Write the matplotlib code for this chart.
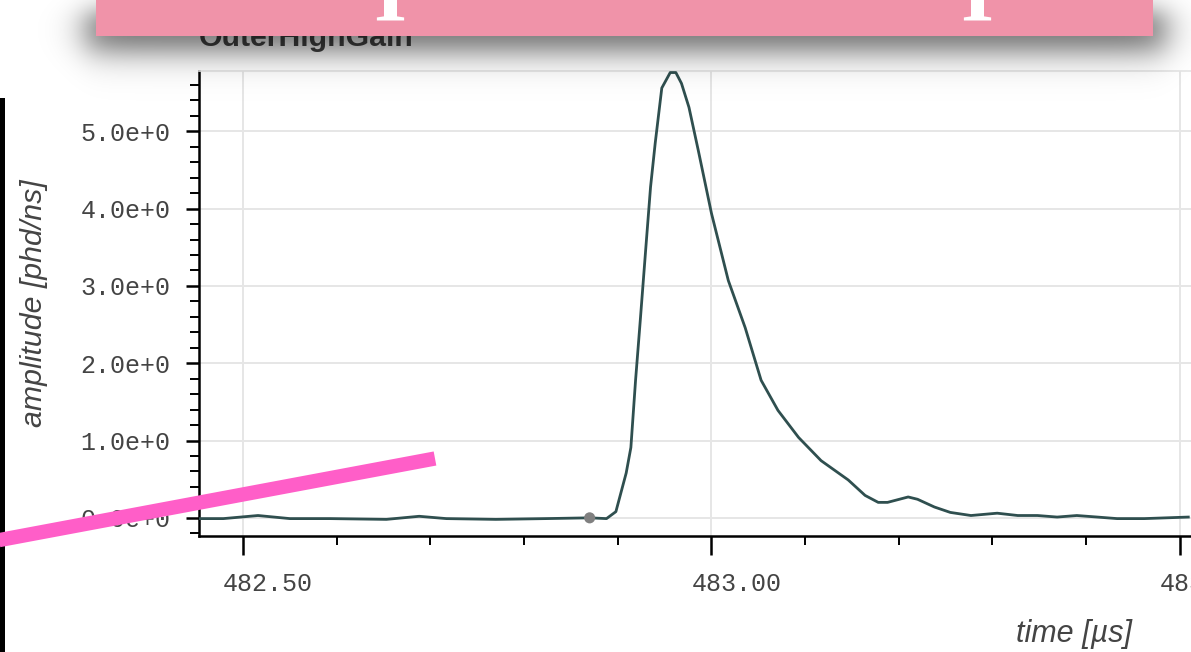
import numpy as np
import matplotlib.pyplot as plt
from matplotlib.ticker import MultipleLocator
from matplotlib.patches import Rectangle
from matplotlib.transforms import ScaledTranslation

# --- данные ---
time_us = [482.453, 482.479, 482.516, 482.550, 482.593, 482.653, 482.688, 482.717,
           482.770, 482.823, 482.870, 482.888, 482.898, 482.909, 482.914, 482.919,
           482.924, 482.930, 482.935, 482.940, 482.947, 482.956, 482.962, 482.968,
           482.976, 482.986, 483.000, 483.018, 483.036, 483.053, 483.071, 483.093,
           483.117, 483.146, 483.164, 483.178, 483.188, 483.210, 483.220, 483.238,
           483.255, 483.277, 483.305, 483.327, 483.348, 483.369, 483.390, 483.412,
           483.433, 483.462, 483.509]
amplitude = [-0.01, -0.01, 0.03, -0.01, -0.01, -0.02, 0.02, -0.01,
             -0.02, -0.01, 0.0, -0.01, 0.08, 0.58, 0.91, 1.78,
             2.55, 3.50, 4.28, 4.85, 5.56, 5.76, 5.76, 5.62,
             5.31, 4.75, 3.94, 3.07, 2.46, 1.78, 1.39, 1.04,
             0.74, 0.49, 0.29, 0.20, 0.20, 0.27, 0.24, 0.14,
             0.07, 0.03, 0.06, 0.03, 0.03, 0.01, 0.03, 0.01,
             -0.01, -0.01, 0.01]
marker_time = [482.870]
marker_amp = [0.0]

x_ticks = [482.5, 483.0, 483.5]
x_tick_labels = ['482.50', '483.00', '483.50']
y_ticks = [0, 1, 2, 3, 4, 5]
y_tick_labels = ['0.0e+0', '1.0e+0', '2.0e+0', '3.0e+0', '4.0e+0', '5.0e+0']

W, H = 1191, 652


def px_box(left, top, right, bottom):
    return [left / W, 1 - bottom / H, (right - left) / W, (bottom - top) / H]


fig = plt.figure(figsize=(W / 100, H / 100), dpi=100)
fig.patch.set_facecolor('white')

# --- сам график (обрезан справа, как на скриншоте) ---
ax = fig.add_axes(px_box(199, 71, 1949, 536))
ax.plot(time_us, amplitude, color='#2f4f4f', lw=2.0, solid_joinstyle='round', zorder=3)
ax.scatter(marker_time, marker_amp, s=64, color='#808080', edgecolors='none', zorder=4)

ax.set_xlim(482.453, 484.321)
ax.set_ylim(-0.235, 5.78)

mono = 'Liberation Mono'
ax.set_xticks(x_ticks, x_tick_labels, fontfamily=mono, fontsize=18, color='#444444')
ax.set_yticks(y_ticks, y_tick_labels, fontfamily=mono, fontsize=18, color='#444444')
ax.xaxis.set_minor_locator(MultipleLocator(0.1))
ax.yaxis.set_minor_locator(MultipleLocator(0.2))
ax.tick_params(axis='x', which='major', direction='out', length=13.7, width=1.8, pad=12)
ax.tick_params(axis='y', which='major', direction='out', length=9.4, width=1.8, pad=11)
ax.tick_params(which='minor', direction='out', length=6.2, width=1.4)

# подписи по оси x на скриншоте сдвинуты вправо от засечек
shift = ScaledTranslation(25 / 100, 0, fig.dpi_scale_trans)
for lab in ax.get_xticklabels():
    lab.set_transform(lab.get_transform() + shift)

ax.grid(which='major', color='#e6e6e6', lw=1.4)
ax.set_axisbelow(True)
for side in ['left', 'bottom']:
    ax.spines[side].set_linewidth(1.8)
    ax.spines[side].set_color('black')
ax.spines['top'].set_color('#e5e5e5')
ax.spines['top'].set_linewidth(1.2)
ax.spines['right'].set_visible(False)

sans = 'Liberation Sans'
ax.set_title('OuterHighGain', loc='left', fontfamily=sans, fontweight='bold',
             fontsize=21.8, color='#444444', pad=18)
ax.set_ylabel('amplitude [phd/ns]', fontfamily=sans, style='italic', fontsize=21.8,
              color='#444444', va='center')
ax.yaxis.set_label_coords((34 - 199) / 1750, 0.5)
ax.set_xlabel('time [µs]', fontfamily=sans, style='italic', fontsize=22, color='#444444',
              va='center')
ax.xaxis.set_label_coords(0.5, (536 - 634) / 465)

# --- поверх: баннер с тенью, полоса слева и розовая линия ---
ov = fig.add_axes([0, 0, 1, 1], zorder=10)
ov.set_xlim(0, W)
ov.set_ylim(H, 0)
ov.axis('off')

yy, xx = np.mgrid[0:H, 0:W] + 0.5


def soft(v, edge, s):
    return 1.0 / (1.0 + np.exp(-(v - edge) / s))


shadow = np.zeros((H, W, 4))
shadow[..., 3] = (0.62 * soft(xx, 86, 10) * (1 - soft(xx, 1166, 10))
                  * soft(yy, 12, 8) * (1 - soft(yy, 50, 10)))
ov.imshow(shadow, extent=(0, W, H, 0), aspect='auto', interpolation='nearest', zorder=1)

ov.add_patch(Rectangle((96, 0), 1057, 36, facecolor='#f093a9', edgecolor='none', zorder=2))
for cx in [389.5, 977]:
    ov.text(cx, 20, 'I', color='white', fontsize=61, fontfamily='Liberation Serif',
            fontweight='bold', ha='center', va='baseline', zorder=3)

ov.add_patch(Rectangle((0, 98), 5, H - 98, facecolor='black', edgecolor='none', zorder=4))
ov.plot([-20, 435], [543.7, 458.5], color='#ff5ec8', lw=10.3, solid_capstyle='butt', zorder=5)

fig.savefig('out.png', dpi=100)
